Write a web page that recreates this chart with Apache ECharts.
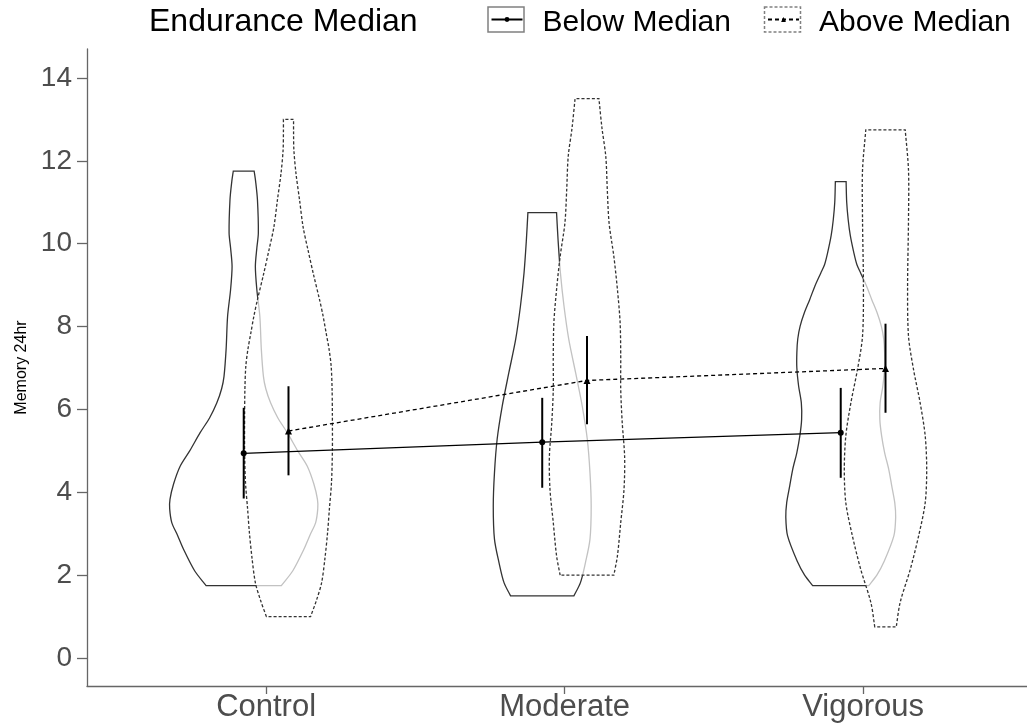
<!DOCTYPE html>
<html>
<head>
<meta charset="utf-8">
<title>Memory 24hr by exercise group</title>
<script src="https://cdn.jsdelivr.net/npm/echarts@6/dist/echarts.min.js"></script>
<style>
  html, body { margin: 0; padding: 0; background: #fff; }
  #chart { width: 1027px; height: 723px; }
</style>
</head>
<body>
<div id="chart"></div>
<script>
const categories = ['Control', 'Moderate', 'Vigorous']
const groups = ['Below Median', 'Above Median']
const yTicks = [0, 2, 4, 6, 8, 10, 12, 14]

// group means and error bar ends, one value per category
const belowMeans = [4.94, 5.21, 5.44]
const belowLow = [3.85, 4.11, 4.35]
const belowHigh = [6.04, 6.28, 6.52]
const aboveMeans = [5.48, 6.70, 6.99]
const aboveLow = [4.41, 5.64, 5.92]
const aboveHigh = [6.56, 7.77, 8.07]

// violin outlines: [memory value, half width in category units]
const controlBelow = [
  [1.75, 0.126], [2.1, 0.164], [2.63, 0.202], [3.0, 0.224], [3.27, 0.241], [3.6, 0.248],
  [3.83, 0.247], [4.2, 0.235], [4.63, 0.213], [5.0, 0.181], [5.44, 0.146], [5.8, 0.114],
  [6.16, 0.090], [6.5, 0.074], [6.8, 0.066], [7.45, 0.059], [8.25, 0.054], [8.89, 0.044],
  [9.45, 0.039], [9.9, 0.044], [10.26, 0.049], [11.06, 0.046], [11.5, 0.040], [11.75, 0.035],
]
const controlAbove = [
  [1.0, 0.074], [1.4, 0.094], [1.82, 0.111], [2.4, 0.122], [3.03, 0.131], [3.6, 0.137],
  [4.23, 0.144], [5.0, 0.147], [5.84, 0.147], [6.5, 0.146], [7.04, 0.143], [7.45, 0.136],
  [7.85, 0.126], [8.25, 0.116], [8.65, 0.104], [9.25, 0.084], [9.86, 0.065], [10.4, 0.049],
  [11.06, 0.037], [11.7, 0.025], [12.27, 0.018], [12.7, 0.017], [13.0, 0.017],
]
const moderateBelow = [
  [1.5, 0.106], [1.82, 0.128], [2.31, 0.145], [2.87, 0.160], [3.67, 0.164], [4.47, 0.160],
  [5.28, 0.151], [6.08, 0.134], [6.88, 0.112], [7.69, 0.089], [8.49, 0.073], [9.29, 0.061],
  [10.1, 0.053], [10.75, 0.048],
]
const moderateAbove = [
  [2.0, 0.090], [2.47, 0.102], [3.27, 0.113], [4.07, 0.124], [4.87, 0.126], [5.68, 0.118],
  [6.48, 0.113], [7.28, 0.113], [8.09, 0.111], [8.89, 0.102], [9.69, 0.090], [10.5, 0.074],
  [11.3, 0.068], [12.1, 0.063], [12.8, 0.050], [13.5, 0.040],
]
const vigorousBelow = [
  [1.75, 0.094], [2.0, 0.121], [2.31, 0.144], [2.95, 0.178], [3.4, 0.184], [3.75, 0.181],
  [4.15, 0.171], [4.55, 0.161], [4.96, 0.147], [5.36, 0.137], [5.76, 0.131], [6.16, 0.132],
  [6.56, 0.141], [7.0, 0.147], [7.37, 0.147], [7.7, 0.144], [8.01, 0.136], [8.35, 0.121],
  [8.65, 0.104], [8.97, 0.087], [9.29, 0.067], [9.5, 0.054], [9.78, 0.044], [10.2, 0.032],
  [10.58, 0.025], [11.0, 0.020], [11.5, 0.018],
]
const vigorousAbove = [
  [0.75, 0.036], [1.34, 0.049], [2.14, 0.083], [2.95, 0.111], [3.75, 0.133], [4.55, 0.138],
  [5.36, 0.133], [6.16, 0.116], [6.96, 0.094], [7.77, 0.077], [8.97, 0.074], [10.58, 0.077],
  [11.78, 0.077], [12.75, 0.066],
]

const violinsBelow = [controlBelow, moderateBelow, vigorousBelow]
const violinsAbove = [controlAbove, moderateAbove, vigorousAbove]

const dodge = 0.075
const ink = '#333'
const font = 'Liberation Sans, Arial, sans-serif'

const chart = echarts.init(document.getElementById('chart'))

function violinSeries(name, violins, offset, style, z) {
  return {
    name,
    type: 'custom',
    z,
    silent: true,
    data: categories.map((c, i) => [i + 1 + offset, 0]),
    renderItem(params, api) {
      const outline = violins[params.dataIndex]
      const center = params.dataIndex + 1 + offset
      const left = outline.map(([v, hw]) => api.coord([center - hw, v]))
      const right = outline.slice().reverse().map(([v, hw]) => api.coord([center + hw, v]))
      // doubled corner points keep the flat ends square when smoothing
      const points = [left[0], ...left, left[left.length - 1], right[0], ...right, right[right.length - 1]]
      return {
        type: 'polygon',
        shape: { points, smooth: 0.3 },
        style,
      }
    },
  }
}

function errorSeries(low, high, offset) {
  return {
    type: 'custom',
    z: 5,
    silent: true,
    data: categories.map((c, i) => [i + 1 + offset, low[i], high[i]]),
    renderItem(params, api) {
      const a = api.coord([api.value(0), api.value(1)])
      const b = api.coord([api.value(0), api.value(2)])
      return {
        type: 'line',
        shape: { x1: a[0], y1: a[1], x2: b[0], y2: b[1] },
        style: { stroke: '#000', lineWidth: 2 },
      }
    },
  }
}

const legendText = {
  color: '#000',
  fontFamily: font,
  rich: {
    t: { fontSize: 30, lineHeight: 30, color: '#000', fontFamily: font, padding: [6, 0, 0, 15] },
  },
}

chart.setOption({
  animation: false,
  title: {
    text: 'Endurance Median',
    left: 149,
    top: 6,
    padding: 0,
    textStyle: { fontSize: 32, fontWeight: 'normal', color: '#000', fontFamily: font },
  },
  legend: [
    {
      data: [groups[0]],
      left: 490.5,
      top: 1.5,
      padding: 0,
      itemWidth: 31,
      itemHeight: 6,
      formatter: '{t|{name}}',
      textStyle: legendText,
    },
    {
      data: [groups[1]],
      left: 767,
      top: 1.5,
      padding: 0,
      itemWidth: 31,
      itemHeight: 6,
      formatter: '{t|{name}}',
      textStyle: legendText,
    },
  ],
  graphic: [
    { type: 'rect', shape: { x: 488, y: 7, width: 36, height: 25 }, style: { fill: 'none', stroke: '#808080', lineWidth: 1.5 } },
    { type: 'rect', shape: { x: 764.5, y: 7, width: 36, height: 25 }, style: { fill: 'none', stroke: '#808080', lineWidth: 1.5, lineDash: [3, 2] } },
  ],
  grid: { left: 87, right: 0, top: 49, bottom: 36 },
  xAxis: {
    type: 'value',
    min: 0.4,
    max: 3.549,
    splitLine: { show: false },
    axisLine: { onZero: false, lineStyle: { color: '#666', width: 1.3 } },
    axisTick: { customValues: [1, 2, 3], length: 8, lineStyle: { color: '#666', width: 1.3 } },
    axisLabel: {
      customValues: [1, 2, 3],
      formatter: (v) => categories[Math.round(v) - 1],
      fontSize: 31,
      color: '#4d4d4d',
      fontFamily: font,
      margin: 6,
    },
  },
  yAxis: {
    type: 'value',
    min: -0.675,
    max: 14.7,
    name: 'Memory 24hr',
    nameLocation: 'middle',
    nameGap: 56,
    nameTextStyle: { fontSize: 16, color: '#000', fontFamily: 'Liberation Sans Narrow, ' + font },
    splitLine: { show: false },
    axisLine: { onZero: false, lineStyle: { color: '#666', width: 1.3 } },
    axisTick: { customValues: yTicks, length: 10, lineStyle: { color: '#666', width: 1.3 } },
    axisLabel: {
      customValues: yTicks,
      fontSize: 28,
      color: '#4d4d4d',
      fontFamily: font,
      margin: 15,
    },
  },
  series: [
    violinSeries('violin-below', violinsBelow, -dodge, { fill: '#fff', stroke: ink, lineWidth: 1.3 }, 1),
    violinSeries('violin-above', violinsAbove, dodge, { fill: 'rgba(255,255,255,0.7)', stroke: ink, lineWidth: 1.3, lineDash: [3, 2] }, 2),
    errorSeries(belowLow, belowHigh, -dodge),
    errorSeries(aboveLow, aboveHigh, dodge),
    {
      name: groups[0],
      type: 'line',
      z: 6,
      data: belowMeans.map((m, i) => [i + 1 - dodge, m]),
      symbol: 'circle',
      symbolSize: 6,
      itemStyle: { color: '#000' },
      lineStyle: { color: '#000', width: 1.3 },
    },
    {
      name: groups[1],
      type: 'line',
      z: 6,
      data: aboveMeans.map((m, i) => [i + 1 + dodge, m]),
      symbol: 'triangle',
      symbolSize: 7,
      itemStyle: { color: '#000' },
      lineStyle: { color: '#000', width: 1.3, type: [4, 3] },
    },
  ],
})
</script>
</body>
</html>
